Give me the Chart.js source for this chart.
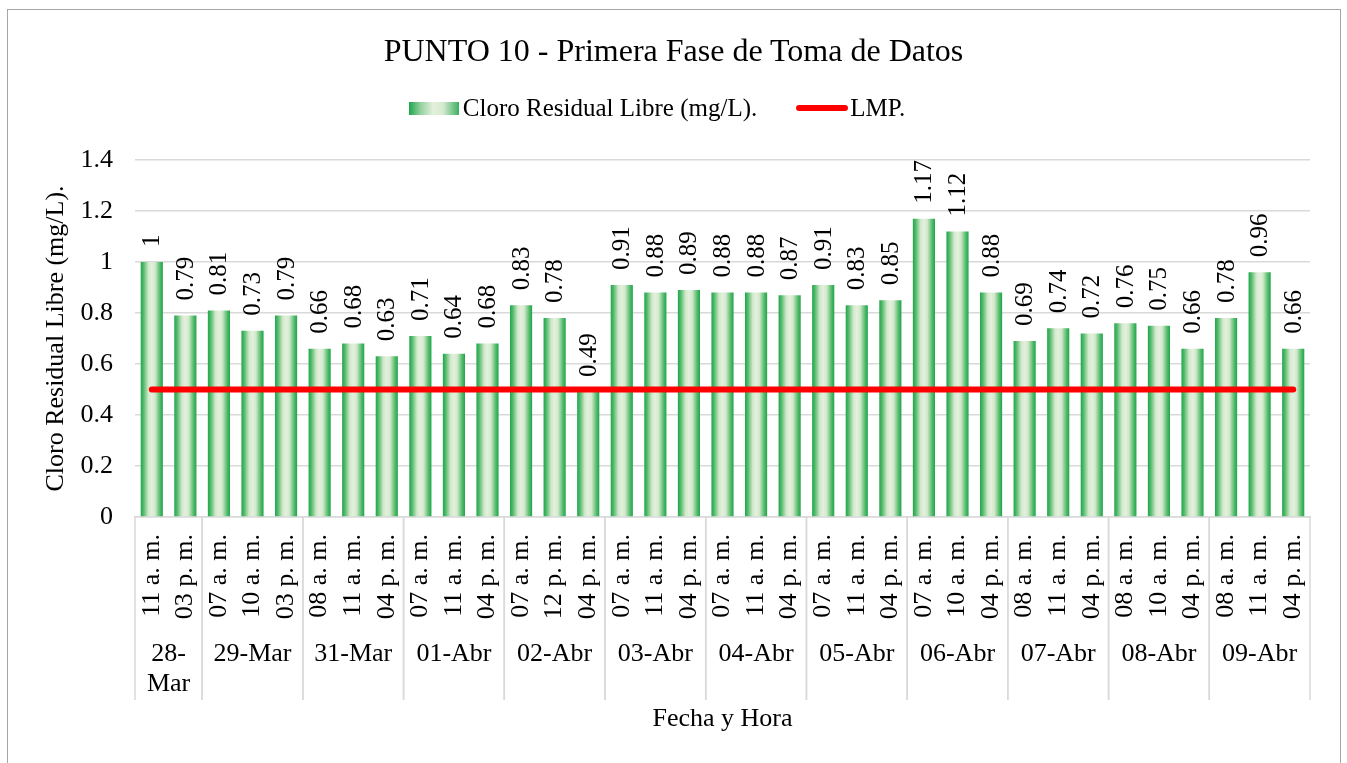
<!DOCTYPE html>
<html lang="es">
<head>
<meta charset="utf-8">
<title>PUNTO 10 - Primera Fase de Toma de Datos</title>
<script src="https://cdn.jsdelivr.net/npm/chart.js@4.4.1/dist/chart.umd.min.js"></script>
<style>
  html, body { margin: 0; padding: 0; background: #fff; overflow: hidden; }
  body { font-family: 'Liberation Serif', 'Times New Roman', serif; color: #000; }
  #wrap { position: relative; width: 1347px; height: 763px; }
  #grafico { position: absolute; left: 0; top: 0; }
  #marco { position: absolute; left: 7px; top: 9px; width: 1332px; height: 800px; border: 1px solid #a6a6a6; pointer-events: none; }
  #titulo { position: absolute; left: 0; top: 31px; width: 1347px; text-align: center; font-size: 32px; line-height: 38px; }
  #leyenda { position: absolute; left: 0; top: 93px; width: 1314px; display: flex; justify-content: center; align-items: center; font-size: 25px; line-height: 30px; }
  .caja-barra { width: 50px; height: 13px; margin-right: 4px; background: linear-gradient(to right, #1fa54c 0%, #8fcf9c 22%, #e4f0dc 48%, #d6ead0 68%, #3cb060 100%); }
  .caja-linea { width: 52px; height: 6px; margin-left: 39px; margin-right: 2px; border-radius: 3px; background: #ff0000; }
</style>
</head>
<body>
<div id="wrap">
  <canvas id="grafico" width="1347" height="763"></canvas>
  <div id="titulo">PUNTO 10 - Primera Fase de Toma de Datos</div>
  <div id="leyenda">
    <span class="caja-barra"></span><span>Cloro Residual Libre (mg/L).</span>
    <span class="caja-linea"></span><span>LMP.</span>
  </div>
  <div id="marco"></div>
</div>
<script>
const horas = [
  '11 a. m.', '03 p. m.',
  '07 a. m.', '10 a. m.', '03 p. m.',
  '08 a. m.', '11 a. m.', '04 p. m.',
  '07 a. m.', '11 a. m.', '04 p. m.',
  '07 a. m.', '12 p. m.', '04 p. m.',
  '07 a. m.', '11 a. m.', '04 p. m.',
  '07 a. m.', '11 a. m.', '04 p. m.',
  '07 a. m.', '11 a. m.', '04 p. m.',
  '07 a. m.', '10 a. m.', '04 p. m.',
  '08 a. m.', '11 a. m.', '04 p. m.',
  '08 a. m.', '10 a. m.', '04 p. m.',
  '08 a. m.', '11 a. m.', '04 p. m.'
];
const fechas = ['28-Mar', '29-Mar', '31-Mar', '01-Abr', '02-Abr', '03-Abr', '04-Abr', '05-Abr', '06-Abr', '07-Abr', '08-Abr', '09-Abr'];
const muestrasPorFecha = [2, 3, 3, 3, 3, 3, 3, 3, 3, 3, 3, 3];
const cloro = [
  1, 0.79,
  0.81, 0.73, 0.79,
  0.66, 0.68, 0.63,
  0.71, 0.64, 0.68,
  0.83, 0.78, 0.49,
  0.91, 0.88, 0.89,
  0.88, 0.88, 0.87,
  0.91, 0.83, 0.85,
  1.17, 1.12, 0.88,
  0.69, 0.74, 0.72,
  0.76, 0.75, 0.66,
  0.78, 0.96, 0.66
];
const lmp = [
  0.5, 0.5,
  0.5, 0.5, 0.5,
  0.5, 0.5, 0.5,
  0.5, 0.5, 0.5,
  0.5, 0.5, 0.5,
  0.5, 0.5, 0.5,
  0.5, 0.5, 0.5,
  0.5, 0.5, 0.5,
  0.5, 0.5, 0.5,
  0.5, 0.5, 0.5,
  0.5, 0.5, 0.5,
  0.5, 0.5, 0.5
];
const yMin = 0;
const yMax = 1.4;
const yPaso = 0.2;

const FUENTE = "'Liberation Serif', 'Times New Roman', serif";
const ANCHO_BARRA = 0.66;
const GRIS = '#d9d9d9';

// barra con degradado horizontal: verde en los bordes, claro al centro
function degradadoBarra(c) {
  const chart = c.chart;
  const xs = chart.scales.x;
  if (c.type !== 'data' || !chart.chartArea || !xs) return '#22a94f';
  const x = xs.getPixelForValue(c.dataIndex);
  const w = (xs.width / horas.length) * ANCHO_BARRA;
  const g = chart.ctx.createLinearGradient(x - w / 2, 0, x + w / 2, 0);
  g.addColorStop(0, '#1ea64b');
  g.addColorStop(0.12, '#4fb968');
  g.addColorStop(0.35, '#d2e9cc');
  g.addColorStop(0.5, '#e4f0dc');
  g.addColorStop(0.65, '#d2e9cc');
  g.addColorStop(0.88, '#4fb968');
  g.addColorStop(1, '#1ea64b');
  return g;
}

// 1 -> "1", 0.6000000001 -> "0.6"
function formatoNum(v) {
  return String(Number(Number(v).toFixed(2)));
}

const etiquetasValor = {
  id: 'etiquetasValor',
  afterDatasetsDraw(chart) {
    const meta = chart.getDatasetMeta(0);
    const ctx = chart.ctx;
    ctx.save();
    ctx.font = `25px ${FUENTE}`;
    ctx.fillStyle = '#000';
    ctx.textAlign = 'left';
    ctx.textBaseline = 'middle';
    meta.data.forEach((bar, i) => {
      ctx.save();
      ctx.translate(bar.x + 1, bar.y - 15);
      ctx.rotate(-Math.PI / 2);
      ctx.fillText(formatoNum(cloro[i]), 0, 0);
      ctx.restore();
    });
    ctx.restore();
  }
};

// segundo nivel del eje X: fechas y separadores
const ejeFechas = {
  id: 'ejeFechas',
  afterDraw(chart) {
    const xs = chart.scales.x;
    const ctx = chart.ctx;
    const top = chart.chartArea.bottom;
    const fondo = 700;
    const yTexto = 654;
    const total = horas.length;

    ctx.save();
    ctx.strokeStyle = GRIS;
    ctx.lineWidth = 1.5;
    ctx.font = `26px ${FUENTE}`;
    ctx.fillStyle = '#000';
    ctx.textAlign = 'center';
    ctx.textBaseline = 'middle';

    let ini = 0;
    fechas.forEach((f, i) => {
      const fin = ini + muestrasPorFecha[i];
      const xIzq = ini === 0 ? xs.left : (xs.getPixelForValue(ini - 1) + xs.getPixelForValue(ini)) / 2;
      const xDer = fin === total ? xs.right : (xs.getPixelForValue(fin - 1) + xs.getPixelForValue(fin)) / 2;

      [xIzq, xDer].forEach((x) => {
        ctx.beginPath();
        ctx.moveTo(x, top);
        ctx.lineTo(x, fondo);
        ctx.stroke();
      });

      const xc = (xIzq + xDer) / 2;
      if (ctx.measureText(f).width > xDer - xIzq - 6) {
        const p = f.indexOf('-') + 1;
        ctx.fillText(f.slice(0, p), xc, yTexto);
        ctx.fillText(f.slice(p), xc, yTexto + 30);
      } else {
        ctx.fillText(f, xc, yTexto);
      }
      ini = fin;
    });
    ctx.restore();
  }
};

const chart = new Chart(document.getElementById('grafico'), {
  type: 'bar',
  data: {
    labels: horas,
    datasets: [
      {
        type: 'bar',
        label: 'Cloro Residual Libre (mg/L).',
        data: cloro,
        backgroundColor: degradadoBarra,
        borderWidth: 0,
        categoryPercentage: 1,
        barPercentage: ANCHO_BARRA,
        order: 1
      },
      {
        type: 'line',
        label: 'LMP.',
        data: lmp,
        borderColor: '#ff0000',
        backgroundColor: '#ff0000',
        borderWidth: 6,
        borderCapStyle: 'round',
        pointRadius: 0,
        pointHoverRadius: 0,
        fill: false,
        order: 0
      }
    ]
  },
  options: {
    responsive: false,
    animation: false,
    layout: { padding: { top: 160, right: 37, left: 0, bottom: 0 } },
    plugins: {
      legend: { display: false },
      title: { display: false },
      tooltip: { enabled: false }
    },
    scales: {
      x: {
        grid: { display: false, drawTicks: false },
        border: { display: true, color: GRIS, width: 1.5 },
        ticks: {
          autoSkip: false,
          minRotation: 90,
          maxRotation: 90,
          padding: 17,
          color: '#000',
          font: { family: FUENTE, size: 26 }
        },
        title: {
          display: true,
          text: 'Fecha y Hora',
          color: '#000',
          font: { family: FUENTE, size: 26 },
          padding: { top: 0, bottom: 28 }
        },
        afterFit(s) { s.height = 246; }
      },
      y: {
        min: yMin,
        max: yMax,
        ticks: {
          stepSize: yPaso,
          padding: 22,
          color: '#000',
          font: { family: FUENTE, size: 26 },
          callback: (v) => formatoNum(v)
        },
        grid: { color: GRIS, lineWidth: 1.5, drawTicks: false },
        border: { display: false },
        title: {
          display: true,
          text: 'Cloro Residual Libre (mg/L).',
          color: '#000',
          font: { family: FUENTE, size: 26 },
          padding: { top: 41, bottom: 0 }
        },
        afterFit(s) { s.width = 135; }
      }
    }
  },
  plugins: [etiquetasValor, ejeFechas]
});
</script>
</body>
</html>
